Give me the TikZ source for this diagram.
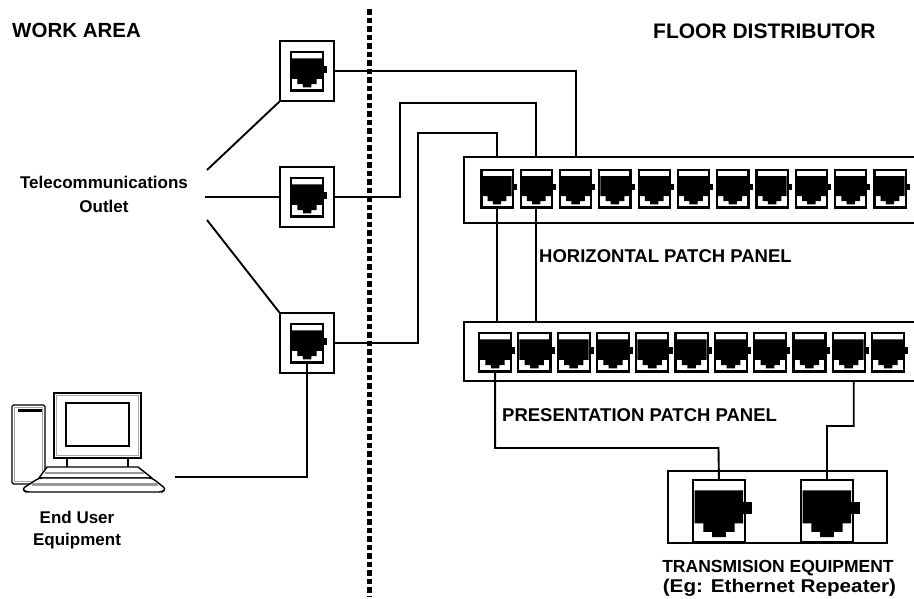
\documentclass[tikz,border=0pt]{standalone}
\usepackage{fontspec}
\setmainfont{Liberation Sans}
\usetikzlibrary{calc}

\begin{document}
\begin{tikzpicture}[x=1pt,y=-1pt,
  wire/.style={line width=1.9},
  lbl/.style={inner sep=0, font=\bfseries\fontsize{#1}{#1}\selectfont},
  outletbox/.style={draw, line width=1.6, fill=white, minimum width=54pt, minimum height=60pt, inner sep=0},
  panelbox/.style={draw, line width=1.9, fill=white, inner sep=0},
  pcline/.style={line width=1.4},
  pcshade/.style={line width=1.0, gray!70},
  jack/.pic={
    \fill[white] (0,0) rectangle (30,36);
    \fill[black] (1,6) -- (29,6) -- (29,25) -- (24,25) -- (24,30) -- (19,30) -- (19,33)
                 -- (11,33) -- (11,30) -- (6,30) -- (6,25) -- (1,25) -- cycle;
    \fill[black] (29,13) rectangle (34,19.5);
    \draw[line width=2.2] (0,0) rectangle (30,36);
    \coordinate (-top) at (15,0);
    \coordinate (-bot) at (15,36);
  }
]
\useasboundingbox (0,0) rectangle (914,598);
\fill[white] (0,0) rectangle (914,598);

% ---------- headings ----------
\node[lbl=20.5, anchor=base west] (workarea) at (12,37) {WORK AREA};
\node[lbl=21, anchor=base west] (floordist) at (653,38) {FLOOR DISTRIBUTOR};

% ---------- dividing line ----------
\coordinate (divtop) at (369.5,9);
\coordinate (divbot) at (369.5,597);
\draw[line width=5, dash pattern=on 5.5 off 3] (divtop) -- (divbot);

% ---------- patch panels and equipment boxes ----------
\node[panelbox, minimum width=470pt, minimum height=66pt] (hpanel) at (699,190) {};
\node[panelbox, minimum width=470pt, minimum height=59pt] (ppanel) at (699,351.5) {};
\node[panelbox, line width=1.6, minimum width=219pt, minimum height=72pt] (tebox) at (777.5,507) {};

% ---------- telecommunications outlets ----------
\node[outletbox] (o1) at (307,71) {};
\node[outletbox] (o2) at (307,197) {};
\node[outletbox] (o3) at (307,343) {};

% ---------- labels ----------
\node[lbl=17, anchor=base] (tel1) at (104,188) {Telecommunications};
\node[lbl=17, anchor=base] (tel2) at (104,212) {Outlet};
\node[lbl=17, anchor=base] (eu1) at (77,523) {End User};
\node[lbl=17, anchor=base] (eu2) at (77,545) {Equipment};
\node[lbl=18.5, anchor=base west] (hlabel) at (539,262) {HORIZONTAL PATCH PANEL};
\node[lbl=18.5, anchor=base west] (plabel) at (502,421) {PRESENTATION PATCH PANEL};
\node[lbl=17.5, anchor=base] (te1label) at (778,572) {TRANSMISION EQUIPMENT};
\node[lbl=18.5, anchor=base] (te2label) at (779.5,592) {\scalebox{1.12}[1]{(Eg: Ethernet Repeater)}};

% ---------- routing points ----------
\coordinate (t1) at (207,170);
\coordinate (t2) at (205,197);
\coordinate (t3) at (207,220);
\coordinate (r2) at (400,103);
\coordinate (r3) at (418,133);
\coordinate (j1) at (718.5,448);
\coordinate (j2) at (827,426);
\coordinate (pcport) at (175,477);

% ---------- jacks ----------
\foreach \i in {1,...,11} {
  \pic[scale=1.04] (hp\i) at ({481.4+(\i-1)*39.3},170) {jack};
  \pic[scale=1.07] (pp\i) at ({479+(\i-1)*39.3},333) {jack};
}
\pic[scale=1.07] (oj1) at (291,52) {jack};
\pic[scale=1.07] (oj2) at (291,178) {jack};
\pic[scale=1.07] (oj3) at (291,324) {jack};
\pic[scale=1.73] (te1) at (693,480) {jack};
\pic[scale=1.73] (te2) at (801,480) {jack};

% ---------- cabling ----------
\draw[wire] (t1) -- (o1.south west);
\draw[wire] (t2) -- (o2.west);
\draw[wire] (t3) -- (o3.north west);

\draw[wire] (o1.east) -| (hp3-top |- hpanel.north);
\draw[wire] (o2.east) -| (r2) -| (hp2-top |- hpanel.north);
\draw[wire] (o3.east) -| (r3) -| (hp1-top |- hpanel.north);

\draw[wire] (hp1-bot) -- (hp1-bot |- ppanel.north);
\draw[wire] (hp2-bot) -- (hp2-bot |- ppanel.north);

\coordinate (pr) at ($(pp10-bot |- ppanel.south)+(5,0)$);
\draw[wire] (pp1-bot) |- (j1) -- (te1-top);
\draw[wire] (pr) |- (j2) -- (te2-top);

\draw[wire] (pcport) -| (oj3-bot);

% ---------- end user equipment (computer) ----------
% tower
\draw[pcline, rounded corners=1.5] (12,405) rectangle (45,484);
\draw[pcshade] (14.5,407.5) rectangle (42.5,481.5);
\fill[black] (18,408.5) rectangle (42,412);
% monitor
\draw[pcline] (54,393) rectangle (141,458);
\draw[pcshade] (56.5,395.5) rectangle (138.5,455.5);
\draw[pcline] (66,403) rectangle (129,446);
\draw[pcline] (67,458) -- (67,467);
\draw[pcline] (128,458) -- (128,467);
% keyboard
\draw[pcline, fill=white, line join=round] (47,467) -- (138,467) -- (152,478) -- (39,478) -- cycle;
\draw[line width=2.2, gray!80] (45,473) -- (144,473);
\draw[pcline, fill=white, rounded corners=3] (39,478) -- (152,478) -- (166,489) -- (162,492) -- (26,492) -- (22,489) -- cycle;
\draw[line width=2.2, gray!80] (32,484.5) -- (158,484.5);
\end{tikzpicture}
\end{document}
